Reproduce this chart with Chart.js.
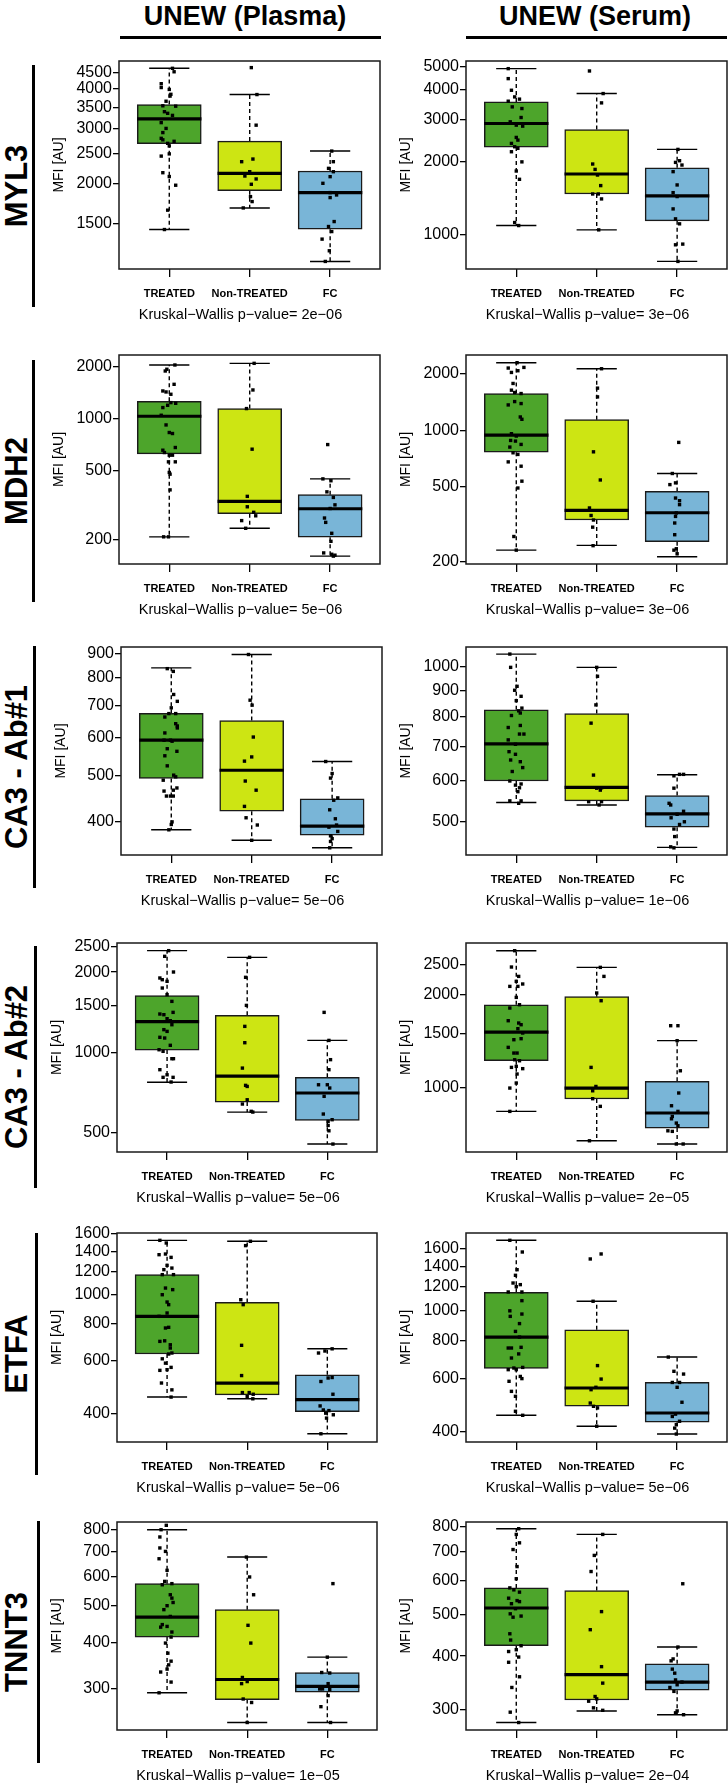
<!DOCTYPE html>
<html>
<head>
<meta charset="utf-8">
<script src="https://cdn.jsdelivr.net/npm/chart.js@4.4.1/dist/chart.umd.min.js"></script>
<style>
  body { margin: 0; background: #fff; font-family: "Liberation Sans", Arial, sans-serif; }
  #page { position: relative; width: 728px; height: 1784px; overflow: hidden; background: #fff; }
  #page canvas, #page div { position: absolute; }
  .coltitle { font-weight: bold; font-size: 27px; transform: translate(-50%, -50%); white-space: nowrap; }
  .rowlabel { font-weight: bold; font-size: 31px; transform: translate(-50%, -50%) rotate(-90deg); white-space: nowrap; }
  .kw { font-size: 14.5px; transform: translate(-50%, -50%); white-space: nowrap; }
  .rule { background: #000; }
</style>
</head>
<body>
<div id="page"></div>
<script>
// ---------------- data ----------------
var GROUPS = ['TREATED', 'Non-TREATED', 'FC'];
var COLUMNS = ['UNEW (Plasma)', 'UNEW (Serum)'];
var ROWS = ['MYL3', 'MDH2', 'CA3 - Ab#1', 'CA3 - Ab#2', 'ETFA', 'TNNT3'];

// box stats per group: [lower whisker, Q1, median, Q3, upper whisker]
// points per group: [jitter offset, value]
var myl3PlasmaBox = [[1432, 2682, 3218, 3572, 4656], [1677, 1903, 2160, 2734, 3843], [1134, 1436, 1876, 2197, 2542]];
var myl3PlasmaPts = [
  [[.04,4656],[.06,4540],[-.10,4160],[-.10,4045],[0,3990],[.02,3850],[.01,3800],[-.04,3660],[-.08,3540],[.08,3530],[-.06,3390],[-.02,3350],[.04,3300],[-.10,3130],[-.04,3000],[-.08,2910],[-.10,2790],[-.08,2760],[.06,2730],[-.02,2690],[0,2640],[-.10,2450],[0,2490],[-.08,2170],[0,2110],[.08,1980],[-.02,1650],[-.06,1432]],
  [[.02,4680],[.09,3843],[.08,3072],[.04,2398],[-.10,2352],[0,2186],[-.06,2118],[.08,2073],[.02,1994],[.01,1822],[.03,1757],[-.08,1677]],
  [[.02,2542],[.04,2352],[-.02,2240],[.04,2186],[0,2108],[-.09,2008],[0,1876],[.08,1844],[0,1809],[.05,1518],[-.02,1464],[.02,1411],[-.10,1335],[-.01,1226],[-.06,1134]]
];
var myl3PlasmaTicks = [1500, 2000, 2500, 3000, 3500, 4000, 4500];
var myl3PlasmaRange = [1073, 4912];

var myl3SerumBox = [[1086, 2305, 2890, 3555, 4889], [1042, 1470, 1780, 2729, 3850], [770, 1136, 1443, 1891, 2254]];
var myl3SerumPts = [
  [[-.10,4889],[-.10,4443],[-.06,3974],[-.02,3729],[-.10,3578],[.04,3650],[-.05,3389],[.07,3335],[.06,3060],[-.075,2936],[0,2844],[.08,2817],[0,2528],[.02,2464],[-.06,2387],[-.02,2312],[.02,2277],[-.06,2204],[.07,2000],[0,1832],[.04,1692],[-.02,1118],[.03,1086]],
  [[-.09,4781],[.08,3850],[.06,3521],[-.05,1959],[-.02,1861],[.01,1763],[.05,1593],[-.05,1470],[.02,1470],[.06,1402],[.025,1042]],
  [[.01,2254],[-.02,1990],[.03,2022],[.06,1940],[-.05,1821],[0,1603],[-.05,1489],[0,1434],[-.05,1274],[-.02,1158],[.03,1104],[-.02,903],[.07,909],[.01,770]]
];
var myl3SerumTicks = [1000, 2000, 3000, 4000, 5000];
var myl3SerumRange = [716, 5261];

var mdh2PlasmaBox = [[208, 626, 1031, 1258, 2037], [233, 283, 333, 1142, 2082], [161, 207, 302, 364, 449]];
var mdh2PlasmaPts = [
  [[.07,2037],[-.05,1881],[-.03,1925],[.06,1576],[-.08,1443],[-.04,1424],[.02,1381],[.02,1236],[.08,1225],[-.02,1193],[-.08,1157],[-.10,1045],[-.04,919],[0,831],[.04,820],[.075,681],[-.08,657],[-.06,637],[0,615],[.04,615],[-.01,563],[.075,563],[0,489],[.01,478],[.01,388],[-.07,208],[-.01,208]],
  [[.055,2082],[.04,1462],[-.04,1142],[.03,666],[-.03,356],[-.03,310],[.05,288],[.075,275],[-.10,258],[-.05,233]],
  [[-.03,708],[-.09,449],[.01,438],[-.04,378],[.04,351],[.06,318],[0,303],[-.07,267],[-.055,252],[.02,218],[.01,196],[-.08,168],[.02,165],[.06,163],[.04,161]]
];
var mdh2PlasmaTicks = [200, 500, 1000, 2000];
var mdh2PlasmaRange = [145, 2326];

var mdh2SerumBox = [[231, 766, 944, 1569, 2288], [245, 334, 376, 1140, 2125], [213, 256, 365, 474, 590]];
var mdh2SerumPts = [
  [[.01,2288],[-.10,2143],[-.06,2031],[.02,2074],[.095,2160],[-.04,1775],[-.06,1635],[-.02,1589],[.06,1569],[-.10,1365],[-.02,1422],[.06,1388],[.05,1178],[.07,1145],[-.06,960],[0,933],[-.07,884],[-.01,877],[.06,842],[-.08,815],[-.04,760],[.02,745],[-.10,680],[.06,645],[.07,537],[.02,494],[-.03,273],[0,231]],
  [[.06,2125],[.01,1676],[.01,1506],[-.04,769],[.045,545],[-.09,387],[-.07,353],[-.04,334],[-.05,306],[-.045,244]],
  [[.02,863],[-.06,590],[-.09,515],[-.02,526],[-.02,437],[.03,423],[.03,403],[-.01,364],[-.02,349],[-.03,322],[-.03,279],[-.01,235],[-.04,231],[0,221]]
];
var mdh2SerumTicks = [200, 500, 1000, 2000];
var mdh2SerumRange = [195, 2514];

var ca3a1PlasmaBox = [[385, 493, 593, 675, 840], [366, 421, 513, 652, 896], [353, 375, 392, 447, 535]];
var ca3a1PlasmaPts = [
  [[-.05,837],[.025,826],[.03,739],[.075,715],[0,693],[-.03,674],[-.08,663],[.055,674],[.075,635],[.055,642],[.075,629],[-.08,614],[-.01,593],[-.09,593],[.01,590],[-.05,569],[.07,562],[-.08,550],[-.05,524],[.03,501],[.055,497],[-.10,489],[.07,471],[-.09,464],[.025,466],[-.06,453],[-.01,453],[.025,453],[.01,400],[0,395],[-.03,385]],
  [[-.04,896],[-.02,719],[.005,702],[.02,602],[0,547],[-.09,536],[-.08,487],[.055,466],[-.09,431],[-.07,408],[.07,394],[0,366]],
  [[-.08,535],[0,505],[-.02,494],[.02,444],[.07,449],[-.03,424],[.04,406],[-.04,390],[.055,394],[.07,382],[-.02,374],[0,369],[-.02,364],[-.03,353]]
];
var ca3a1PlasmaTicks = [400, 500, 600, 700, 800, 900];
var ca3a1PlasmaRange = [341, 929];

var ca3a1SerumBox = [[545, 600, 708, 825, 1058], [539, 549, 583, 811, 997], [446, 488, 518, 562, 617]];
var ca3a1SerumPts = [
  [[-.08,1058],[-.07,997],[.01,916],[-.02,900],[.06,876],[0,859],[.07,831],[.03,821],[-.06,804],[.05,813],[-.10,762],[.05,769],[.04,740],[.095,740],[-.10,721],[-.01,707],[-.09,684],[-.01,676],[-.07,659],[.05,654],[.08,637],[-.05,626],[-.08,600],[-.01,589],[.06,592],[.04,582],[.02,572],[-.08,549],[.03,543],[.06,549]],
  [[0,997],[.01,958],[-.01,843],[-.07,777],[-.04,616],[0,581],[.06,582],[.045,576],[-.10,547],[.03,539],[.06,547]],
  [[-.04,614],[.03,618],[.08,618],[-.04,581],[-.10,543],[-.08,539],[.08,524],[0,517],[-.075,509],[.09,500],[.03,494],[-.04,484],[-.03,468],[-.08,447],[-.04,445]]
];
var ca3a1SerumTicks = [500, 600, 700, 800, 900, 1000];
var ca3a1SerumRange = [431, 1092];

var ca3a2PlasmaBox = [[771, 1019, 1303, 1631, 2408], [596, 650, 814, 1376, 2273], [452, 555, 703, 805, 1108]];
var ca3a2PlasmaPts = [
  [[.02,2408],[-.03,2293],[-.09,1901],[-.06,1873],[.08,2002],[0,1847],[-.06,1743],[0,1646],[.06,1553],[-.09,1392],[-.04,1384],[.075,1412],[0,1337],[.04,1314],[.06,1269],[-.04,1216],[0,1198],[-.09,1138],[-.03,1131],[.04,1062],[-.10,1022],[-.05,1008],[.06,946],[.08,946],[-.09,860],[-.05,805],[0,823],[.075,805],[.05,773]],
  [[.03,2273],[-.02,1912],[-.01,1500],[-.03,1251],[-.03,1086],[-.06,872],[-.02,751],[0,744],[0,663],[-.06,639],[.05,600],[.07,596]],
  [[-.04,1412],[.02,1108],[.04,938],[.02,860],[-.11,755],[0,755],[.03,734],[-.04,683],[-.05,586],[.06,558],[.01,550],[.01,531],[.02,507],[.07,452]]
];
var ca3a2PlasmaTicks = [500, 1000, 1500, 2000, 2500];
var ca3a2PlasmaRange = [422, 2573];

var ca3a2SerumBox = [[841, 1225, 1516, 1857, 2774], [676, 922, 1000, 1971, 2451], [660, 743, 831, 1051, 1422]];
var ca3a2SerumPts = [
  [[-.02,2774],[-.06,2457],[.03,2292],[0,2209],[-.08,2128],[.02,2128],[.08,2166],[0,1961],[.04,1857],[-.08,1812],[-.10,1649],[.03,1621],[.06,1601],[.02,1554],[.08,1505],[-.03,1432],[.06,1443],[-.10,1353],[-.03,1297],[.01,1297],[-.02,1234],[.04,1225],[-.06,1166],[0,1175],[.08,1155],[.01,1110],[0,1038],[-.08,1000],[-.08,841]],
  [[.045,2451],[.09,2292],[0,2026],[.055,1913],[-.07,1166],[-.01,1012],[-.05,980],[-.05,924],[.045,873],[-.09,676]],
  [[-.08,1589],[.01,1589],[0,1422],[.04,1137],[.02,964],[-.07,877],[.01,841],[-.06,810],[-.07,796],[-.01,771],[.01,756],[-.115,728],[-.06,725],[-.01,660],[.075,660]]
];
var ca3a2SerumTicks = [1000, 1500, 2000, 2500];
var ca3a2SerumRange = [622, 2937];

var etfaPlasmaBox = [[453, 632, 846, 1168, 1523], [447, 461, 505, 942, 1512], [341, 405, 444, 538, 658]];
var etfaPlasmaPts = [
  [[-.09,1523],[-.01,1492],[-.10,1363],[-.02,1370],[.05,1335],[0,1255],[.06,1229],[-.04,1214],[-.06,1168],[.08,1168],[-.02,1053],[.07,1040],[-.06,1000],[0,945],[.02,926],[-.10,846],[0,868],[.02,777],[-.02,773],[-.09,697],[-.03,700],[.04,679],[.04,662],[.02,632],[.06,637],[-.06,609],[-.02,589],[.05,570],[-.09,557],[0,560],[-.07,505],[.06,479],[.05,453]],
  [[.04,1512],[-.02,1462],[-.08,962],[-.05,926],[-.07,676],[-.07,535],[-.06,469],[.025,469],[.075,463],[0,455],[.07,447]],
  [[.06,658],[-.11,637],[-.03,647],[-.08,511],[.06,527],[.01,525],[.07,463],[-.09,423],[-.05,410],[.02,408],[-.02,400],[.075,395],[-.01,385],[-.08,341]]
];
var etfaPlasmaTicks = [400, 600, 800, 1000, 1200, 1400, 1600];
var etfaPlasmaRange = [320, 1612];

var etfaSerumBox = [[454, 647, 820, 1150, 1704], [418, 486, 558, 867, 1075], [394, 431, 462, 582, 705]];
var etfaSerumPts = [
  [[-.08,1704],[.075,1560],[.01,1365],[-.01,1308],[-.04,1234],[.05,1219],[0,1200],[-.10,1153],[.07,1153],[.07,1080],[-.08,1000],[-.075,959],[.07,976],[.04,908],[-.01,856],[.04,820],[-.10,755],[-.06,755],[.06,759],[-.06,700],[.03,722],[-.10,641],[-.03,649],[0,641],[.08,652],[-.09,587],[.05,609],[.07,599],[-.06,544],[-.01,524],[-.01,468],[.08,454]],
  [[-.08,1480],[.055,1537],[-.045,1075],[.01,661],[.055,597],[-.07,551],[-.01,561],[-.08,498],[-.04,486],[.01,480],[0,418]],
  [[-.11,705],[-.04,633],[.08,620],[-.06,582],[.03,582],[0,561],[.06,501],[-.02,458],[-.06,450],[.03,434],[-.01,423],[-.03,412],[-.01,394]]
];
var etfaSerumTicks = [400, 600, 800, 1000, 1200, 1400, 1600];
var etfaSerumRange = [371, 1801];

var tnnt3PlasmaBox = [[293, 413, 467, 574, 800], [244, 281, 318, 489, 676], [244, 294, 305, 332, 365]];
var tnnt3PlasmaPts = [
  [[-.01,822],[-.075,800],[-.09,765],[-.09,715],[-.02,700],[-.10,669],[0,623],[-.03,582],[-.06,570],[.06,574],[.04,536],[.06,525],[.075,511],[0,501],[-.04,489],[.04,469],[-.06,446],[-.08,439],[0,441],[.06,426],[.05,413],[-.02,398],[.01,374],[.05,356],[.02,348],[0,339],[-.08,333],[.05,313],[-.10,293]],
  [[-.01,676],[.03,598],[.08,536],[.01,444],[.045,398],[-.06,322],[-.07,310],[0,314],[-.05,282],[.055,276],[0,244]],
  [[.07,574],[0,365],[-.07,332],[.03,331],[.01,310],[-.095,300],[-.06,300],[.01,288],[.03,299],[-.08,269],[.04,244]]
];
var tnnt3PlasmaTicks = [300, 400, 500, 600, 700, 800];
var tnnt3PlasmaRange = [233, 839];

var tnnt3SerumBox = [[280, 423, 518, 577, 793], [298, 316, 362, 569, 769], [292, 333, 348, 384, 420]];
var tnnt3SerumPts = [
  [[.03,793],[0,769],[.04,735],[-.04,709],[.01,647],[0,606],[-.08,577],[-.03,571],[.04,564],[-.095,546],[.01,539],[.04,536],[-.06,530],[-.01,516],[-.075,502],[-.04,493],[.06,496],[-.08,451],[-.07,436],[.06,423],[0,414],[-.095,410],[.03,398],[-.095,387],[.04,358],[-.055,338],[-.075,296],[.03,280]],
  [[.075,769],[-.03,687],[-.07,630],[.06,508],[-.08,461],[.06,378],[.075,346],[-.02,322],[0,318],[-.10,314],[-.04,303],[.075,299]],
  [[.07,590],[.01,420],[-.05,394],[-.075,390],[-.06,373],[-.03,365],[-.02,352],[.06,348],[-.09,338],[-.04,331],[0,343],[0,298],[-.02,295],[.08,292]]
];
var tnnt3SerumTicks = [300, 400, 500, 600, 700, 800];
var tnnt3SerumRange = [269, 822];

var PVALUES = [['2e\u221206', '3e\u221206'], ['5e\u221206', '3e\u221206'], ['5e\u221206', '1e\u221206'],
               ['5e\u221206', '2e\u221205'], ['5e\u221206', '5e\u221206'], ['1e\u221205', '2e\u221204']];

// ---------------- layout ----------------
var FONT = '"Liberation Sans", Arial, sans-serif';
var COLORS = ['#4da52b', '#cde513', '#79b5d7'];
var ROW_TOP = [61, 355, 647, 943, 1233, 1522];
var ROW_BOTTOM = [269, 564, 855, 1152, 1442, 1730];
var PLASMA_X = [[119, 380], [119, 380], [121, 382], [117, 377], [117, 377], [117, 377]];
var SERUM_X = [466, 727];
var ROW_LINE_X = [33, 33, 34, 35, 36.5, 38];
var ROW_LINE_TOP = [65, 360, 646, 946, 1233, 1521];
var ROW_LINE_LEN = 242;

var panels = [
  [myl3PlasmaBox, myl3PlasmaPts, myl3PlasmaTicks, myl3PlasmaRange], [myl3SerumBox, myl3SerumPts, myl3SerumTicks, myl3SerumRange],
  [mdh2PlasmaBox, mdh2PlasmaPts, mdh2PlasmaTicks, mdh2PlasmaRange], [mdh2SerumBox, mdh2SerumPts, mdh2SerumTicks, mdh2SerumRange],
  [ca3a1PlasmaBox, ca3a1PlasmaPts, ca3a1PlasmaTicks, ca3a1PlasmaRange], [ca3a1SerumBox, ca3a1SerumPts, ca3a1SerumTicks, ca3a1SerumRange],
  [ca3a2PlasmaBox, ca3a2PlasmaPts, ca3a2PlasmaTicks, ca3a2PlasmaRange], [ca3a2SerumBox, ca3a2SerumPts, ca3a2SerumTicks, ca3a2SerumRange],
  [etfaPlasmaBox, etfaPlasmaPts, etfaPlasmaTicks, etfaPlasmaRange], [etfaSerumBox, etfaSerumPts, etfaSerumTicks, etfaSerumRange],
  [tnnt3PlasmaBox, tnnt3PlasmaPts, tnnt3PlasmaTicks, tnnt3PlasmaRange], [tnnt3SerumBox, tnnt3SerumPts, tnnt3SerumTicks, tnnt3SerumRange]
];

var page = document.getElementById('page');

function addDiv(cls, text, css) {
  var d = document.createElement('div');
  if (cls) d.className = cls;
  if (text) d.textContent = text;
  Object.assign(d.style, css);
  page.appendChild(d);
  return d;
}

// column headers
addDiv('coltitle', COLUMNS[0], {left: '245px', top: '16px'});
addDiv('coltitle', COLUMNS[1], {left: '595px', top: '16px'});
addDiv('rule', '', {left: '120px', top: '35.5px', width: '261px', height: '3px'});
addDiv('rule', '', {left: '466px', top: '35.5px', width: '261px', height: '3px'});

// row headers
ROWS.forEach(function(name, r) {
  var x = ROW_LINE_X[r], top = ROW_LINE_TOP[r];
  addDiv('rule', '', {left: (x - 1.5) + 'px', top: top + 'px', width: '3px', height: ROW_LINE_LEN + 'px'});
  addDiv('rowlabel', name, {left: '16.5px', top: (top + ROW_LINE_LEN / 2) + 'px'});
});

// frame around the plot region
var framePlugin = {
  id: 'frame',
  afterDraw: function(chart) {
    var a = chart.chartArea, ctx = chart.ctx;
    ctx.save();
    ctx.strokeStyle = '#1a1a1a';
    ctx.lineWidth = 1.5;
    ctx.strokeRect(a.left, a.top, a.right - a.left, a.bottom - a.top);
    ctx.restore();
  }
};

function makePanel(idx) {
  var row = Math.floor(idx / 2), col = idx % 2;
  var box = panels[idx][0], pts = panels[idx][1], ticks = panels[idx][2], range = panels[idx][3];
  var fx = col === 0 ? PLASMA_X[row] : SERUM_X;
  var fl = fx[0], fr = fx[1], ft = ROW_TOP[row], fb = ROW_BOTTOM[row];
  var YW = 80, PT = 14, XH = 40, PR = 6;

  var canvas = document.createElement('canvas');
  canvas.width = YW + (fr - fl) + PR;
  canvas.height = PT + (fb - ft) + XH;
  canvas.style.left = (fl - YW) + 'px';
  canvas.style.top = (ft - PT) + 'px';
  page.appendChild(canvas);

  var points = [], medians = [], whiskers = [], caps = [], bars = [];
  pts.forEach(function(g, gi) {
    g.forEach(function(p) { points.push({x: gi + 1 + p[0], y: p[1]}); });
  });
  box.forEach(function(b, gi) {
    var x = gi + 1;
    bars.push({x: x, y: [b[1], b[3]]});
    medians.push({x: x - 0.4, y: b[2]}, {x: x + 0.4, y: b[2]}, {x: x, y: null});
    whiskers.push({x: x, y: b[3]}, {x: x, y: b[4]}, {x: x, y: null},
                  {x: x, y: b[1]}, {x: x, y: b[0]}, {x: x, y: null});
    caps.push({x: x - 0.25, y: b[4]}, {x: x + 0.25, y: b[4]}, {x: x, y: null},
              {x: x - 0.25, y: b[0]}, {x: x + 0.25, y: b[0]}, {x: x, y: null});
  });

  new Chart(canvas.getContext('2d'), {
    type: 'scatter',
    data: {
      datasets: [
        { type: 'scatter', data: points, pointStyle: 'rect', pointRadius: 2.4, backgroundColor: '#000', borderWidth: 0 },
        { type: 'line', data: medians, borderColor: '#000', borderWidth: 3.2, pointRadius: 0, spanGaps: false },
        { type: 'bar', data: bars, backgroundColor: COLORS, borderColor: '#1a1a1a', borderWidth: 1.5, borderSkipped: false, barThickness: 64 },
        { type: 'line', data: caps, borderColor: '#000', borderWidth: 1.4, pointRadius: 0, spanGaps: false },
        { type: 'line', data: whiskers, borderColor: '#000', borderWidth: 1.4, borderDash: [4, 3], pointRadius: 0, spanGaps: false }
      ]
    },
    options: {
      responsive: false,
      animation: false,
      events: [],
      layout: { padding: { left: 0, top: PT, right: PR, bottom: 0 } },
      plugins: { legend: { display: false }, tooltip: { enabled: false } },
      scales: {
        x: {
          type: 'linear', min: 0.375, max: 3.62, offset: false,
          afterBuildTicks: function(s) { s.ticks = [1, 2, 3].map(function(v) { return {value: v}; }); },
          afterFit: function(s) { s.height = XH; },
          ticks: {
            callback: function(v) { return GROUPS[Math.round(v) - 1]; },
            font: { family: FONT, size: 11, weight: 'bold' }, color: '#000',
            padding: 10, maxRotation: 0, autoSkip: false
          },
          grid: { drawOnChartArea: false, tickLength: 8, color: '#000', lineWidth: 1.3, offset: false },
          border: { display: false }
        },
        y: {
          type: 'logarithmic', min: range[0], max: range[1],
          afterBuildTicks: function(s) { s.ticks = ticks.map(function(v) { return {value: v}; }); },
          afterFit: function(s) { s.width = YW; },
          ticks: {
            callback: function(v) { return String(v); },
            font: { family: FONT, size: 16 }, color: '#000', padding: 1, autoSkip: false
          },
          grid: { drawOnChartArea: false, tickLength: 6, color: '#000', lineWidth: 1.3 },
          border: { display: false },
          title: { display: true, text: 'MFI [AU]', color: '#000', font: { family: FONT, size: 14 }, padding: { top: 11.6, bottom: 0 } }
        }
      }
    },
    plugins: [framePlugin]
  });

  addDiv('kw', 'Kruskal\u2212Wallis p\u2212value= ' + PVALUES[row][col],
         {left: ((fl + fr) / 2 - 9) + 'px', top: (fb + 45) + 'px'});
}

for (var i = 0; i < panels.length; i++) makePanel(i);
</script>
</body>
</html>
